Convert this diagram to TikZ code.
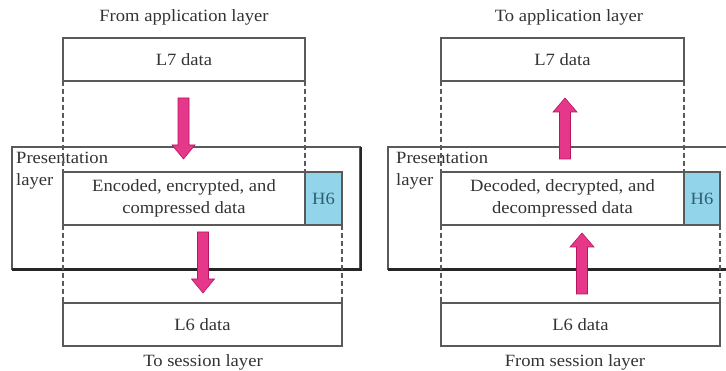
\documentclass[tikz,border=0pt]{standalone}
\usepackage{fontspec}
\setmainfont{Liberation Serif}[FakeStretch=1.08]
\definecolor{txt}{HTML}{333333}
\definecolor{ln}{HTML}{5A5A5A}
\definecolor{hsix}{HTML}{92D4EA}
\definecolor{hsixtxt}{HTML}{2E5F73}
\definecolor{pinkfill}{HTML}{E6388A}
\definecolor{pinkline}{HTML}{B8145F}
\begin{document}
\begin{tikzpicture}[x=1pt,y=-1pt,
  every node/.style={text=txt,font=\fontsize{17.2}{21.5}\selectfont},
  databox/.style={draw=ln,line width=1.3pt,fill=white,inner sep=0pt,outer sep=0pt,rectangle},
  hdrbox/.style={draw=ln,line width=1.3pt,fill=hsix,inner sep=0pt,outer sep=0pt,rectangle,text=hsixtxt},
  layerbox/.style={draw=ln,line width=1.1pt,fill=white},
  shadowline/.style={draw=black!85,line width=2.8pt},
  guide/.style={draw=ln,line width=1.2pt,dash pattern=on 5pt off 3pt},
  fatarrow/.style={fill=pinkfill,draw=pinkline,line width=0.6pt},
  downarrow/.pic={\path[fatarrow] (-5.5,0) -- (-5.5,47) -- (-11.5,47) -- (0,61) -- (11.5,47) -- (5.5,47) -- (5.5,0) -- cycle;},
  uparrow/.pic={\path[fatarrow] (-5.5,0) -- (-5.5,-47) -- (-12,-47) -- (0,-61) -- (12,-47) -- (5.5,-47) -- (5.5,0) -- cycle;}
]
\useasboundingbox (0,0) rectangle (726,371);
\fill[white] (0,0) rectangle (726,371);

% ===== Left panel =====
\node (ttlA) at (184,17) {From application layer};
% presentation layer box
\path[layerbox] (12,147) rectangle (360,269);
\draw[shadowline] (12,269.5) -- (361,269.5) -- (361,147);
\node[anchor=north west,align=left,inner sep=0pt] (presA) at (16,152) {Presentation\\layer};

\node[databox,minimum width=242pt,minimum height=43pt] (l7A) at (184,59.5) {L7 data};
\node[databox,minimum width=242pt,minimum height=53pt,align=center] (encA) at (184,198.5) {Encoded, encrypted, and\\compressed data};
\node[hdrbox,minimum width=37pt,minimum height=53pt] (h6A) at (323.5,198.5) {H6};
\node[databox,minimum width=279pt,minimum height=43pt] (l6A) at (202.5,324.5) {L6 data};
\node (botA) at (203,362) {To session layer};

\draw[guide] (l7A.south west) -- (encA.north west);
\draw[guide] (l7A.south east) -- (encA.north east);
\draw[guide] (encA.south west) -- (l6A.north west);
\draw[guide] (h6A.south east) -- (l6A.north east);

\pic at (183.5,98) {downarrow};
\pic at (203,232) {downarrow};

% ===== Right panel =====
\node (ttlB) at (569,17) {To application layer};
\path[layerbox] (388,147) rectangle (740,269);
\draw[shadowline] (388,269.5) -- (740,269.5);
\node[anchor=north west,align=left,inner sep=0pt] (presB) at (396,152) {Presentation\\layer};

\node[databox,minimum width=243pt,minimum height=43pt] (l7B) at (562.5,59.5) {L7 data};
\node[databox,minimum width=243pt,minimum height=53pt,align=center] (decB) at (562.5,198.5) {Decoded, decrypted, and\\decompressed data};
\node[hdrbox,minimum width=36pt,minimum height=53pt] (h6B) at (702,198.5) {H6};
\node[databox,minimum width=279pt,minimum height=43pt] (l6B) at (580.5,324.5) {L6 data};
\node (botB) at (575,362) {From session layer};

\draw[guide] (l7B.south west) -- (decB.north west);
\draw[guide] (l7B.south east) -- (decB.north east);
\draw[guide] (decB.south west) -- (l6B.north west);
\draw[guide] (h6B.south east) -- (l6B.north east);

\pic at (565,159) {uparrow};
\pic at (582,294) {uparrow};
\end{tikzpicture}
\end{document}
